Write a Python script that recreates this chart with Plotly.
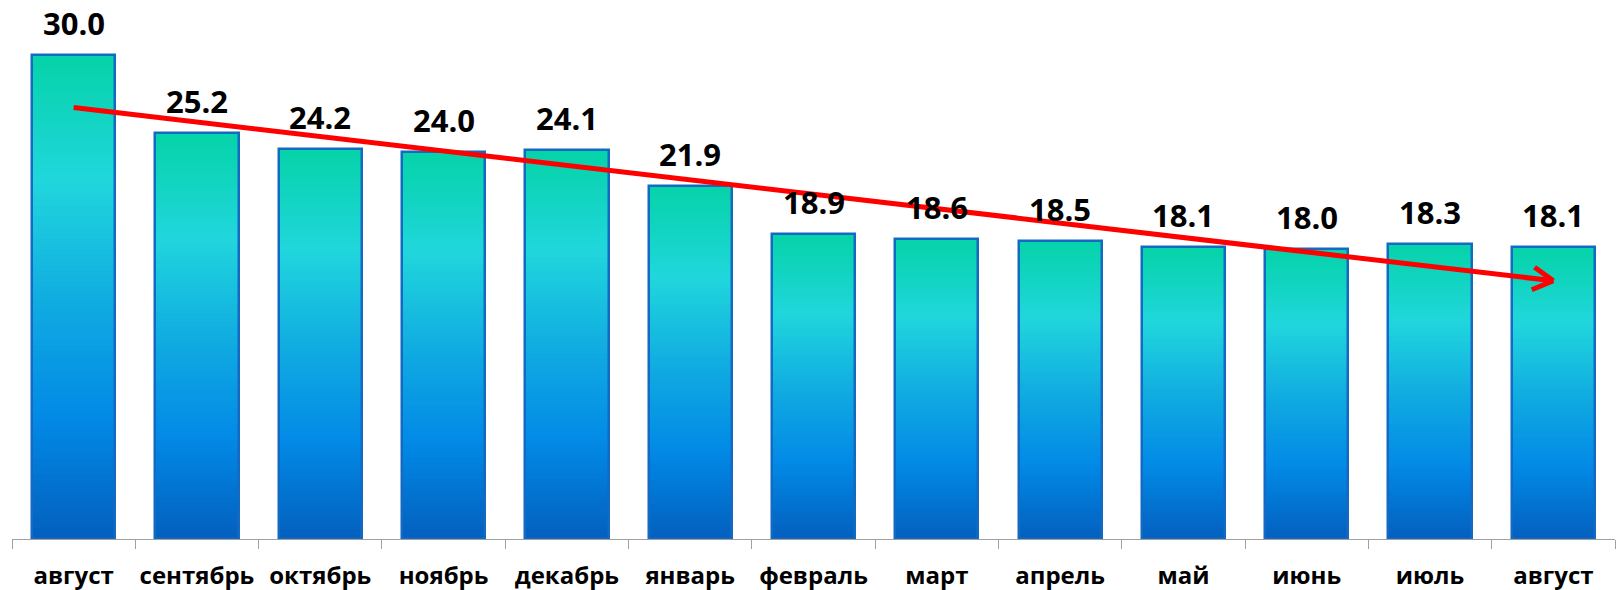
import numpy as np
import plotly.graph_objects as go

# ---- data ----
months = ["август", "сентябрь", "октябрь", "ноябрь", "декабрь", "январь", "февраль",
          "март", "апрель", "май", "июнь", "июль", "август"]
values = [30.0, 25.2, 24.2, 24.0, 24.1, 21.9, 18.9, 18.6, 18.5, 18.1, 18.0, 18.3, 18.1]

# ---- layout constants ----
W, H = 1616, 590
ML, MR, MT, MB = 12, 1, 0, 51
PX_PER_UNIT = 16.13
plot_w = W - ML - MR
plot_h = H - MT - MB
y_top = plot_h / PX_PER_UNIT
px_per_cat = plot_w / len(months)

FONT = "Open Sans"
BAR_W = 0.675

# gradient stops: position from top of bar -> rgb
stops = [(0.0, (5, 211, 168)), (0.26, (32, 214, 220)), (0.55, (14, 165, 226)),
         (0.75, (2, 138, 230)), (1.0, (3, 95, 190))]


def color_at(t):
    for (t0, c0), (t1, c1) in zip(stops[:-1], stops[1:]):
        if t <= t1:
            f = (t - t0) / (t1 - t0)
            c = [round(a + (b - a) * f) for a, b in zip(c0, c1)]
            return f"rgb({c[0]},{c[1]},{c[2]})"
    c = stops[-1][1]
    return f"rgb({c[0]},{c[1]},{c[2]})"


x_keys = [str(i) for i in range(len(months))]
vals = np.array(values)

fig = go.Figure()

N = 90
for j in range(N):
    frac = (N - j) / N
    t = 1 - frac + 0.5 / N
    fig.add_bar(x=x_keys, y=vals * frac, width=BAR_W,
                marker=dict(color=color_at(t), line=dict(width=0)),
                hoverinfo="skip", showlegend=False)

# outline
fig.add_bar(x=x_keys, y=vals, width=BAR_W,
            marker=dict(color="rgba(0,0,0,0)", line=dict(color="rgb(20,105,195)", width=2.5)),
            showlegend=False, hoverinfo="skip")

# trend line (least squares fit)
idx = np.arange(len(values))
slope, intercept = np.polyfit(idx, vals, 1)
y0 = intercept
y1 = intercept + slope * idx[-1]
fig.add_scatter(x=[x_keys[0], x_keys[-1]], y=[y0, y1], mode="lines",
                line=dict(color="rgb(255,0,0)", width=5), showlegend=False, hoverinfo="skip")

# open arrow head arms
dx = idx[-1] * px_per_cat
dy = -(y1 - y0) * PX_PER_UNIT
ang = np.arctan2(-dy, -dx)
L = 25
for s in (+1, -1):
    a = ang + s * np.deg2rad(29)
    fig.add_annotation(x=x_keys[-1], y=y1, ax=L * np.cos(a), ay=L * np.sin(a),
                       showarrow=True, arrowhead=0, arrowwidth=5, arrowcolor="rgb(255,0,0)",
                       text="", standoff=0)

# value labels
for k, v in zip(x_keys, values):
    fig.add_annotation(x=k, y=v, text=f"{v:.1f}", showarrow=False, yanchor="bottom",
                       yshift=9, font=dict(family=FONT, size=31, color="black", weight="bold"))

fig.update_layout(
    width=W, height=H, margin=dict(l=ML, r=MR, t=MT, b=MB, autoexpand=False),
    plot_bgcolor="white", paper_bgcolor="white", barmode="overlay", bargap=0,
    xaxis=dict(type="category", range=[-0.5, len(months) - 0.5], tickmode="array",
               tickvals=x_keys, ticktext=months, tickson="boundaries", ticks="outside",
               ticklen=9, tickcolor="#a0a0a0", showline=True, linecolor="#a0a0a0",
               linewidth=1, showgrid=False, zeroline=False, ticklabelstandoff=15,
               tickangle=0, automargin=False,
               tickfont=dict(family=FONT, size=24, color="black", weight="bold")),
    yaxis=dict(range=[0, y_top], visible=False, showgrid=False),
)

fig.write_html("out.html", config={"displayModeBar": False},
               post_script="document.body.style.margin='0';document.body.style.overflow='hidden';")
